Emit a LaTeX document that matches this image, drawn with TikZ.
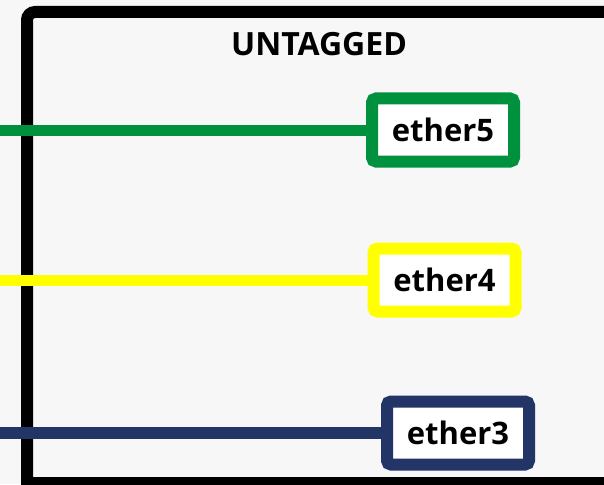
\documentclass[tikz,border=0pt]{standalone}
\usepackage{fontspec}
\setmainfont{Open Sans}
\usetikzlibrary{positioning}
\definecolor{Ground}{HTML}{F7F7F7}
\definecolor{Green}{HTML}{00913F}
\definecolor{Yellow}{HTML}{FFFF00}
\definecolor{Navy}{HTML}{233466}

\begin{document}
\begin{tikzpicture}[x=1pt,y=-1pt,font=\bfseries\fontsize{31}{35}\selectfont,
    port/.style={draw=#1,fill=white,line width=12pt,rounded corners=4pt,minimum width=142pt,minimum height=63pt,inner sep=0pt}]
  \useasboundingbox (0,0) rectangle (604,484);
  \clip (0,0) rectangle (604,484);
  \fill[Ground] (0,0) rectangle (604,484);
  % vlan frame
  \draw[line width=12pt] (640,483) -- (27,483) -- (27,40) [rounded corners=8pt] -- (27,12) -- (640,12);
  \node[font=\bfseries\fontsize{32}{36}\selectfont] (title) at (319,44) {UNTAGGED};
  \node[port=Green] (e5) at (443,130) {ether5};
  \node[port=Yellow] (e4) at (444.5,280) {ether4};
  \node[port=Navy] (e3) at (458,433) {ether3};
  \coordinate (in5) at (0,130);\coordinate (in4) at (0,280);\coordinate (in3) at (0,433);
  \draw[Green,line width=11pt] (in5)--(e5);\draw[Yellow,line width=11pt] (in4)--(e4);\draw[Navy,line width=12pt] (in3)--(e3);
\end{tikzpicture}
\end{document}
